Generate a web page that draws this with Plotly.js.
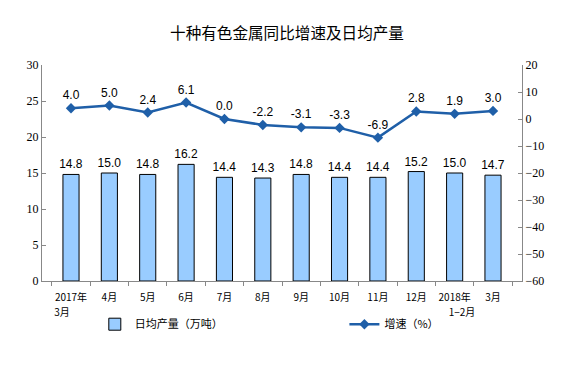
<!DOCTYPE html>
<html>
<head>
<meta charset="utf-8">
<script src="https://cdn.plot.ly/plotly-3.0.1.min.js"></script>
<style>html,body{margin:0;padding:0;background:#fff;}#chart{width:574px;height:369px;}</style>
</head>
<body>
<div id="chart"></div>
<script>
const categories = ["2017年3月","4月","5月","6月","7月","8月","9月","10月","11月","12月","2018年1−2月","3月"];
const tickLine1 = ["2017年","4月","5月","6月","7月","8月","9月","10月","11月","12月","2018年","3月"];
const tickLine2 = ["3月","","","","","","","","","","1−2月",""];
const dailyOutput = [14.8, 15.0, 14.8, 16.2, 14.4, 14.3, 14.8, 14.4, 14.4, 15.2, 15.0, 14.7];
const growthRate = [4.0, 5.0, 2.4, 6.1, 0.0, -2.2, -3.1, -3.3, -6.9, 2.8, 1.9, 3.0];

const cjk = '"Noto Sans CJK SC", "Liberation Sans", sans-serif';
const numFont = '"Liberation Sans", Arial, sans-serif';

const idx = categories.map((c, i) => i);
const line2Idx = idx.filter(i => tickLine2[i] !== '');

const traces = [
  {
    type: 'bar', x: categories, y: dailyOutput, name: '日均产量（万吨）',
    marker: {color: '#99CCFF', line: {color: '#000000', width: 1}},
    width: 0.42,
    text: dailyOutput.map(v => v.toFixed(1)), textposition: 'outside', constraintext: 'none',
    textfont: {family: numFont, size: 12, color: '#000'},
    cliponaxis: false, yaxis: 'y', legend: 'legend'
  },
  {
    type: 'scatter', mode: 'lines+markers+text', x: categories, y: growthRate, name: '增速（%）',
    line: {color: '#1F5FA8', width: 2.5},
    marker: {symbol: 'diamond', size: 8, color: '#1F5FA8'},
    text: growthRate.map(v => v.toFixed(1)), textposition: 'top center',
    textfont: {family: numFont, size: 12, color: '#000'},
    cliponaxis: false, yaxis: 'y2', legend: 'legend2'
  },
  {
    // invisible carrier so the second-line tick axis is drawn
    type: 'scatter', mode: 'markers', x: idx, y: dailyOutput, xaxis: 'x2', yaxis: 'y',
    marker: {opacity: 0, size: 1}, showlegend: false, hoverinfo: 'skip'
  }
];

const legendBase = {orientation: 'h', yanchor: 'middle', y: -0.2, xanchor: 'left',
  font: {family: cjk, size: 11, color: '#000'}, bgcolor: 'rgba(0,0,0,0)'};

const layout = {
  width: 574, height: 369,
  margin: {l: 42, r: 52, t: 65, b: 88},
  paper_bgcolor: '#fff', plot_bgcolor: '#fff',
  title: {text: '十种有色金属同比增速及日均产量', x: 0.5, xanchor: 'center', y: 0.91, yanchor: 'middle',
          font: {family: cjk, size: 15.6, color: '#000'}},
  showlegend: true,
  legend: Object.assign({}, legendBase, {x: 0.11}),
  legend2: Object.assign({}, legendBase, {x: 0.63}),
  xaxis: {
    type: 'category', showline: true, linecolor: '#888', linewidth: 1,
    ticks: 'outside', tickson: 'boundaries', ticklen: 4, tickcolor: '#888', tickangle: 0,
    tickmode: 'array', tickvals: categories, ticktext: tickLine1, ticklabelstandoff: 7,
    tickfont: {family: cjk, size: 10, color: '#000'}, showgrid: false, zeroline: false
  },
  xaxis2: {
    overlaying: 'x', anchor: 'y', side: 'bottom', range: [-0.5, categories.length - 0.5],
    showline: false, ticks: '', showgrid: false, zeroline: false, tickangle: 0,
    tickmode: 'array', tickvals: line2Idx, ticktext: line2Idx.map(i => tickLine2[i]), ticklabelstandoff: 24,
    tickfont: {family: cjk, size: 10, color: '#000'}
  },
  yaxis: {
    range: [0, 30], dtick: 5, showline: true, linecolor: '#888', linewidth: 1,
    ticks: 'inside', ticklen: 4, tickcolor: '#888', showgrid: false, zeroline: false,
    tickfont: {family: '"Liberation Serif", serif', size: 12, color: '#000'}
  },
  yaxis2: {
    range: [-60, 20], dtick: 10, overlaying: 'y', side: 'right', showline: true, linecolor: '#888', linewidth: 1,
    ticks: 'inside', ticklen: 4, tickcolor: '#888', showgrid: false, zeroline: false,
    tickfont: {family: '"Liberation Serif", serif', size: 12, color: '#000'}
  }
};

Plotly.newPlot('chart', traces, layout, {displayModeBar: false, staticPlot: true});
</script>
</body>
</html>
